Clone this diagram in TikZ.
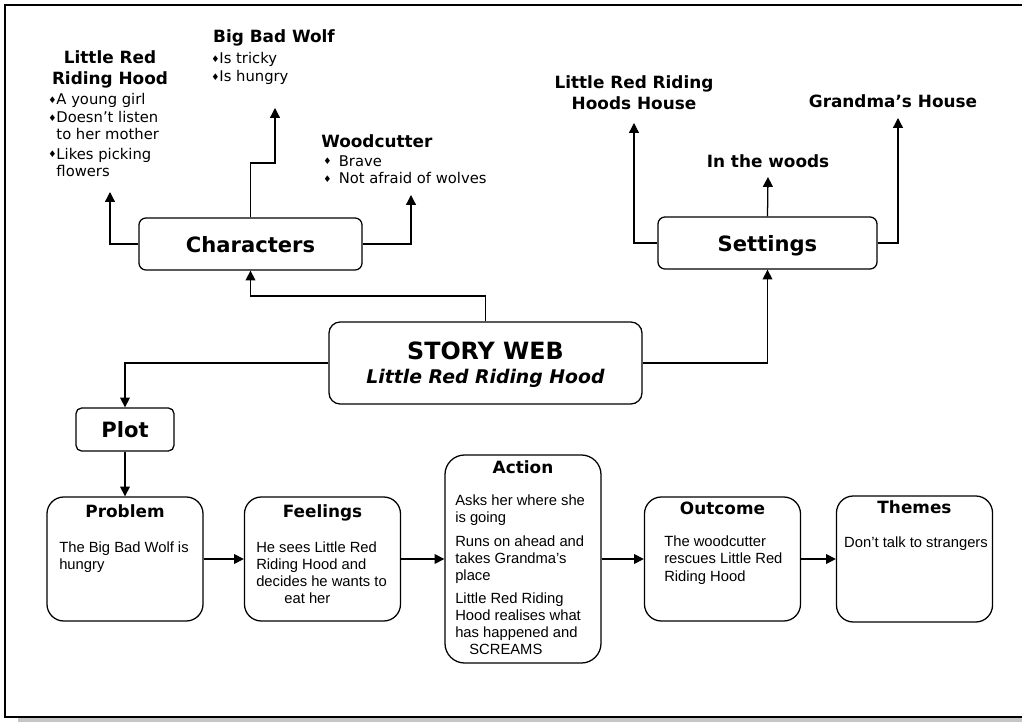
\documentclass[tikz,border=0pt]{standalone}
\usepackage{fontspec}
\setmainfont{Liberation Sans}
\newfontfamily\verdana{DejaVu Sans}
\usetikzlibrary{arrows.meta, positioning, calc}
\newcommand{\bul}{{\verdana\fontsize{6.5}{6.5}\selectfont\raisebox{0.8pt}{♦}}}

\begin{document}
\begin{tikzpicture}[
  x=0.025cm, y=-0.025cm,
  topic/.style={rectangle, rounded corners=5pt, draw, line width=0.9pt, minimum height=1.3cm, text depth=0pt, font=\verdana\bfseries\fontsize{15}{17}\selectfont},
  storybox/.style={topic, rounded corners=8pt, minimum width=7.825cm, minimum height=2.05cm, align=center, font=\verdana\bfseries\fontsize{16.9}{19}\selectfont},
  panel/.style={rectangle, rounded corners=12pt, draw, line width=0.9pt, minimum width=3.9cm, minimum height=3.1cm},
  head/.style={align=center, inner sep=0pt, font=\verdana\bfseries\fontsize{12}{15}\selectfont},
  paneltitle/.style={head, anchor=base, font=\verdana\bfseries\fontsize{12}{14}\selectfont},
  note/.style={align=left, anchor=north west, inner sep=0pt, font=\verdana\fontsize{10.5}{12.6}\selectfont},
  body/.style={align=left, anchor=north west, inner sep=0pt, font=\fontsize{10.5}{12.1}\selectfont},
  arr/.style={-{Triangle[length=7pt, width=7pt]}, line width=0.9pt}
]
  \clip (0,0) rectangle (1022,722);
  % page frame with shadow
  \fill[gray!45] (18,717) rectangle (1040,722);
  \draw[line width=1.3pt] (5,5) rectangle (1040,717);

  % main nodes
  \node[storybox] (story) at (485.5,363) {STORY WEB\\[-2pt]{\itshape\fontsize{13.4}{16}\selectfont Little Red Riding Hood}};
  \node[topic, minimum width=5.575cm] (chars) at (250.5,244) {Characters};
  \node[topic, minimum width=5.475cm] (settings) at (767.5,243) {Settings};
  \node[topic, rounded corners=4pt, minimum width=2.45cm, minimum height=1.075cm] (plot) at (125,429.5) {Plot};

  % characters
  \node[head] (lrrhT) at (110,69) {Little Red\\Riding Hood};
  \node[note] (lrrhL) at (48,93) {\bul A young girl\\\bul Doesn’t listen\\\hphantom{\bul}to her mother\\[1pt]\bul Likes picking\\\hphantom{\bul}flowers};
  \node[head] (wolfT) at (274,38) {Big Bad Wolf};
  \node[note] (wolfL) at (211,52) {\bul Is tricky\\\bul Is hungry};
  \node[head, anchor=west] (woodT) at (321,141) {Woodcutter};
  \node[note] (woodL) at (323,155) {\bul\enspace Brave\\\bul\enspace Not afraid of wolves};
  \coordinate (lrrhTip) at (110,192);
  \coordinate (wolfTip) at (275,108);
  \coordinate (woodTip) at (411,195);

  % settings
  \node[head] (homeT) at (634,92.5) {Little Red Riding\\Hoods House};
  \node[head] (woodsT) at (768,161) {In the woods};
  \node[head] (granT) at (893,101) {Grandma’s House};
  \coordinate (homeTip) at (634,123);
  \coordinate (woodsTip) at (768,177);
  \coordinate (granTip) at (898,118);

  % plot row
  \node[panel] (problem) at (125,559) {};
  \node[panel, minimum height=3.1cm] (feelings) at (322.5,559) {};
  \node[panel, minimum width=3.9cm, minimum height=5.2cm, rounded corners=14pt] (action) at (523,559) {};
  \node[panel] (outcome) at (722.5,559) {};
  \node[panel, minimum height=3.15cm] (themes) at (914.5,559) {};

  \node[paneltitle] (problemT) at (125,517) {Problem};
  \node[paneltitle] (feelingsT) at (322.5,517) {Feelings};
  \node[paneltitle] (actionT) at (523,473) {Action};
  \node[paneltitle] (outcomeT) at (722.5,514) {Outcome};
  \node[paneltitle] (themesT) at (914.5,513) {Themes};

  \node[body] (problemB) at (59,541.5) {The Big Bad Wolf is\\hungry};
  \node[body] (feelingsB) at (256,541.5) {He sees Little Red\\Riding Hood and\\decides he wants to\\\hspace*{20pt}eat her};
  \node[body] (actionB) at (455,495) {Asks her where she\\is going\\[4.5pt]Runs on ahead and\\takes Grandma’s\\place\\[4.5pt]Little Red Riding\\Hood realises what\\has happened and\\\hspace*{10pt}SCREAMS};
  \node[body] (outcomeB) at (664,536) {The woodcutter\\rescues Little Red\\Riding Hood};
  \node[body, anchor=center] (themesB) at (916,544) {Don’t talk to strangers};

  % connectors
  \draw[arr] (story.north) -- (story.north |- 0,296) -| (chars.south);
  \draw[arr] (story.east) -| (settings.south);
  \draw[arr] (story.west) -| (plot.north);
  \draw[arr] (plot.south) -- (problem.north);

  \draw[arr] (chars.west) -| (lrrhTip);
  \draw[arr] (chars.north) |- ($(wolfTip)+(0,55)$) -- (wolfTip);
  \draw[arr] (chars.east) -| (woodTip);

  \draw[arr] (settings.west) -| (homeTip);
  \draw[arr] (settings.north) -- (woodsTip);
  \draw[arr] (settings.east) -| (granTip);

  \draw[arr] (problem) -- (feelings);
  \draw[arr] (feelings) -- (action);
  \draw[arr] (action) -- (outcome);
  \draw[arr] (outcome) -- (themes);
\end{tikzpicture}
\end{document}
